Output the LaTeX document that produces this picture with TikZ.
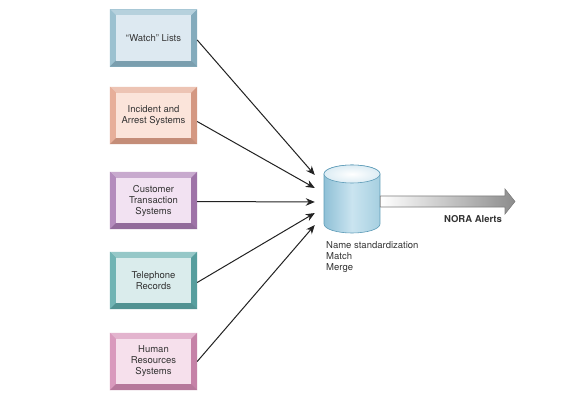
\documentclass[tikz,border=0pt]{standalone}
\usepackage{fontspec}
\setmainfont{TeX Gyre Heros}
\usetikzlibrary{calc,backgrounds,arrows.meta}
\definecolor{txt}{HTML}{333333}
\definecolor{arr}{HTML}{222222}
\definecolor{eA}{HTML}{8EB8CA}\definecolor{fA}{HTML}{DDE9F1}
\definecolor{eB}{HTML}{E4A48C}\definecolor{fB}{HTML}{FBE4DA}
\definecolor{eC}{HTML}{AA7CB4}\definecolor{fC}{HTML}{F2E2F2}
\definecolor{eD}{HTML}{5EAAAA}\definecolor{fD}{HTML}{DAECEC}
\definecolor{eE}{HTML}{D48CB4}\definecolor{fE}{HTML}{F6E0EC}
\definecolor{cylL}{HTML}{8FC0D6}\definecolor{cylM}{HTML}{CAE4F0}\definecolor{cylR}{HTML}{A6CFE0}
\definecolor{cylB}{HTML}{5E9CB8}\definecolor{cylT}{HTML}{EAF4F9}
\tikzset{
  boxtxt/.style={font=\fontsize{9.5}{11}\selectfont, text=txt, align=center,
    minimum width=87pt, minimum height=57pt, inner sep=0pt},
  feed/.style={draw=arr, line width=1pt, -{Stealth[length=9pt,width=7.5pt]}},
  lbl/.style={font=\fontsize{9.5}{11}\selectfont, text=txt, inner sep=0pt},
}
\newcommand\bevbox[5]{%
  \node[boxtxt] (#1) at (#2) {#5};
  \begin{scope}[on background layer]
    \fill[#3] (#1.north west) rectangle (#1.south east);
    \fill[#3!65!white] (#1.north west) -- (#1.north east) -- ($(#1.north east)+(-6,6)$) -- ($(#1.north west)+(6,6)$) -- cycle;
    \fill[#3!88!white] (#1.north west) -- ($(#1.north west)+(6,6)$) -- ($(#1.south west)+(6,-6)$) -- (#1.south west) -- cycle;
    \fill[#3!93!black] (#1.north east) -- (#1.south east) -- ($(#1.south east)+(-6,-6)$) -- ($(#1.north east)+(-6,6)$) -- cycle;
    \fill[#3!86!black] (#1.south west) -- (#1.south east) -- ($(#1.south east)+(-6,-6)$) -- ($(#1.south west)+(6,-6)$) -- cycle;
    \fill[#4] ($(#1.north west)+(6,6)$) rectangle ($(#1.south east)+(-6,-6)$);
  \end{scope}}
\begin{document}
\begin{tikzpicture}[x=1pt,y=-1pt]
\useasboundingbox (0,0) rectangle (577,403);
\begin{scope}[on background layer]
\fill[white] (0,0) rectangle (577,403);
\end{scope}

\bevbox{b1}{153.5,38}{eA}{fA}{``Watch'' Lists}
\bevbox{b2}{153.5,115.5}{eB}{fB}{Incident and\\Arrest Systems}
\bevbox{b3}{153.5,200.5}{eC}{fC}{Customer\\Transaction\\Systems}
\bevbox{b4}{153.5,280.5}{eD}{fD}{Telephone\\Records}
\bevbox{b5}{153.5,361.5}{eE}{fE}{Human\\Resources\\Systems}

% database cylinder
\node[minimum width=56pt, minimum height=68pt, inner sep=0pt] (db) at (352,199) {};
\shade[left color=cylL, right color=cylR, middle color=cylM, draw=cylB, line width=0.6pt]
  (324,174) -- (324,224) arc[start angle=180, end angle=0, x radius=28, y radius=9]
  -- (380,174) arc[start angle=0, end angle=-180, x radius=28, y radius=9] -- cycle;
\shade[inner color=white, outer color=cylT!85!cylL, draw=cylB, line width=0.6pt]
  (352,174) ellipse [x radius=28, y radius=9];

\coordinate (t1) at ($(db.west)+(-9,-24)$);
\coordinate (t2) at ($(db.west)+(-9,-11)$);
\coordinate (t3) at ($(db.west)+(-9,3)$);
\coordinate (t4) at ($(db.west)+(-9,14)$);
\coordinate (t5) at ($(db.west)+(-9,26)$);
\draw[feed] ($(b1.east)+(0,2)$) -- (t1);
\draw[feed] ($(b2.east)+(0,6)$) -- (t2);
\draw[feed] ($(b3.east)+(0,1)$) -- (t3);
\draw[feed] ($(b4.east)+(0,2)$) -- (t4);
\draw[feed] ($(b5.east)+(0,0)$) -- (t5);

% output arrow
\shade[left color=white, right color=black!45, draw=black!50, line width=0.6pt]
  (db.east |- 0,196) -- (505,196) -- (505,189) -- (515,201.5) -- (505,214) -- (505,207) -- (db.east |- 0,207) -- cycle;
\node[lbl, font=\fontsize{9.5}{11}\selectfont\bfseries, anchor=base] (nora) at (473,222) {NORA Alerts};

\node[lbl, align=left, anchor=north west] (proc) at (326,241) {Name standardization\\Match\\Merge};
\end{tikzpicture}
\end{document}
